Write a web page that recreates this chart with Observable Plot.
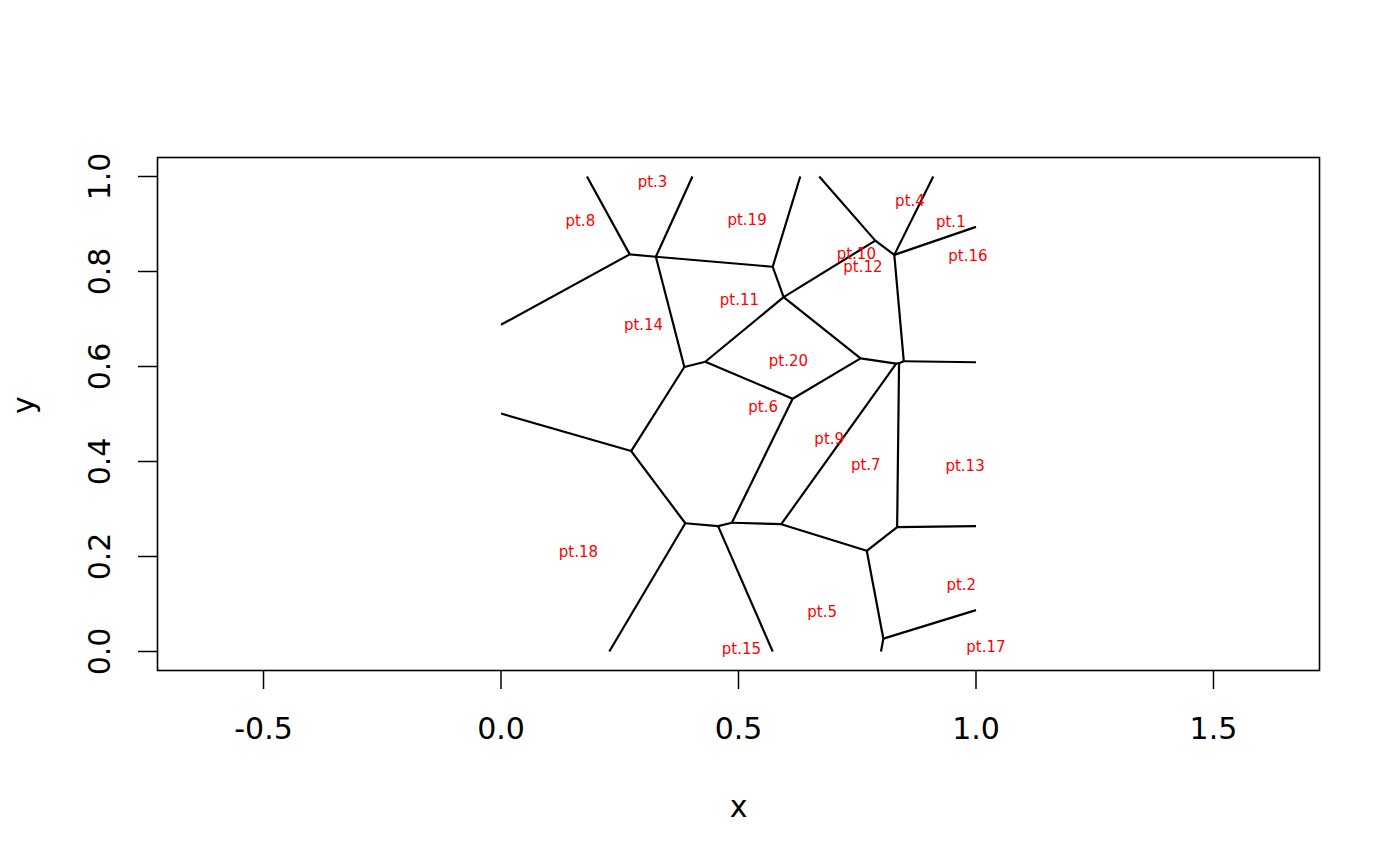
<!DOCTYPE html>
<html>
<head>
<meta charset="utf-8">
<script src="https://cdn.jsdelivr.net/npm/d3@7"></script>
<script src="https://cdn.jsdelivr.net/npm/@observablehq/plot@0.6"></script>
<style>
  html, body { margin: 0; padding: 0; background: #fff; }
  #chart svg { display: block; }
</style>
</head>
<body>
<div id="chart"></div>
<script>
// Voronoi (Dirichlet tile) edges
const segX1 = [0.181,0.271,0.326,0.271,0.326,0.572,0.572,0.595,0.788,0.788,0.828,0.828,0.828,0.326,0.386,0.430,0.595,0.430,0.614,0.757,0.832,0.838,0.848,0.832,0.838,0.614,0.386,0.274,0.274,0.388,0.388,0.457,0.457,0.486,0.590,0.770,0.834,0.770,0.805,0.805];
const segY1 = [1.000,0.836,0.831,0.836,0.831,0.810,0.810,0.746,0.865,0.865,0.835,0.835,0.835,0.831,0.599,0.610,0.746,0.610,0.532,0.617,0.606,0.607,0.611,0.606,0.607,0.532,0.599,0.422,0.422,0.270,0.270,0.264,0.264,0.271,0.268,0.212,0.262,0.212,0.027,0.027];
const segX2 = [0.271,0.326,0.403,0.000,0.572,0.630,0.595,0.788,0.670,0.828,0.910,1.000,0.848,0.386,0.430,0.595,0.757,0.614,0.757,0.832,0.838,0.848,1.000,0.590,0.834,0.486,0.274,0.000,0.388,0.457,0.228,0.486,0.572,0.590,0.770,0.834,1.000,0.805,1.000,0.800];
const segY2 = [0.836,0.831,1.000,0.688,0.810,1.000,0.746,0.865,1.000,0.835,1.000,0.894,0.611,0.599,0.610,0.746,0.617,0.532,0.617,0.606,0.607,0.611,0.609,0.268,0.262,0.271,0.422,0.501,0.270,0.264,0.000,0.271,0.000,0.268,0.212,0.262,0.264,0.027,0.087,0.000];

// Point labels
const ptNames = ["pt.1","pt.2","pt.3","pt.4","pt.5","pt.6","pt.7","pt.8","pt.9","pt.10","pt.11","pt.12","pt.13","pt.14","pt.15","pt.16","pt.17","pt.18","pt.19","pt.20"];
const ptX = [0.947,0.969,0.319,0.861,0.676,0.552,0.768,0.167,0.691,0.748,0.502,0.762,0.977,0.300,0.506,0.983,1.021,0.163,0.518,0.605];
const ptY = [0.904,0.139,0.989,0.947,0.083,0.514,0.392,0.905,0.448,0.836,0.739,0.810,0.390,0.686,0.005,0.833,0.009,0.209,0.907,0.612];

const xTicks = [-0.5, 0, 0.5, 1, 1.5];
const yTicks = [0, 0.2, 0.4, 0.6, 0.8, 1.0];

const segments = segX1.map((_, i) => ({x1: segX1[i], y1: segY1[i], x2: segX2[i], y2: segY2[i]}));
const points = ptNames.map((name, i) => ({name, x: ptX[i], y: ptY[i]}));

const fmt = d => d.toFixed(1);

const chart = Plot.plot({
  width: 1400,
  height: 866,
  marginLeft: 157,
  marginRight: 81,
  marginTop: 157,
  marginBottom: 196,
  style: {fontFamily: "DejaVu Sans", background: "#fff", color: "#000"},
  x: {domain: [-0.7232, 1.7232]},
  y: {domain: [-0.04, 1.04]},
  marks: [
    Plot.frame({stroke: "#000", strokeWidth: 1.6}),
    Plot.axisX({ticks: xTicks, tickSize: 19, tickPadding: 40, tickFormat: fmt, fontSize: 30, lineAnchor: "middle", label: null, strokeWidth: 1.5}),
    Plot.axisY({ticks: yTicks, tickSize: 19, tickPadding: 38, tickRotate: -90, textAnchor: "middle", lineAnchor: "middle", tickFormat: fmt, fontSize: 30, label: null, strokeWidth: 1.5}),
    Plot.link(segments, {x1: "x1", y1: "y1", x2: "x2", y2: "y2", stroke: "#000", strokeWidth: 2.2}),
    Plot.text(points, {x: "x", y: "y", text: "name", fill: "#FF0000", fontSize: 15, lineAnchor: "middle"}),
    Plot.text(["x"], {frameAnchor: "bottom", dy: 137, text: d => d, fontSize: 30, lineAnchor: "middle"}),
    Plot.text(["y"], {frameAnchor: "left", dx: -133, text: d => d, fontSize: 30, rotate: -90, lineAnchor: "middle"})
  ]
});
document.getElementById("chart").appendChild(chart);
</script>
</body>
</html>
